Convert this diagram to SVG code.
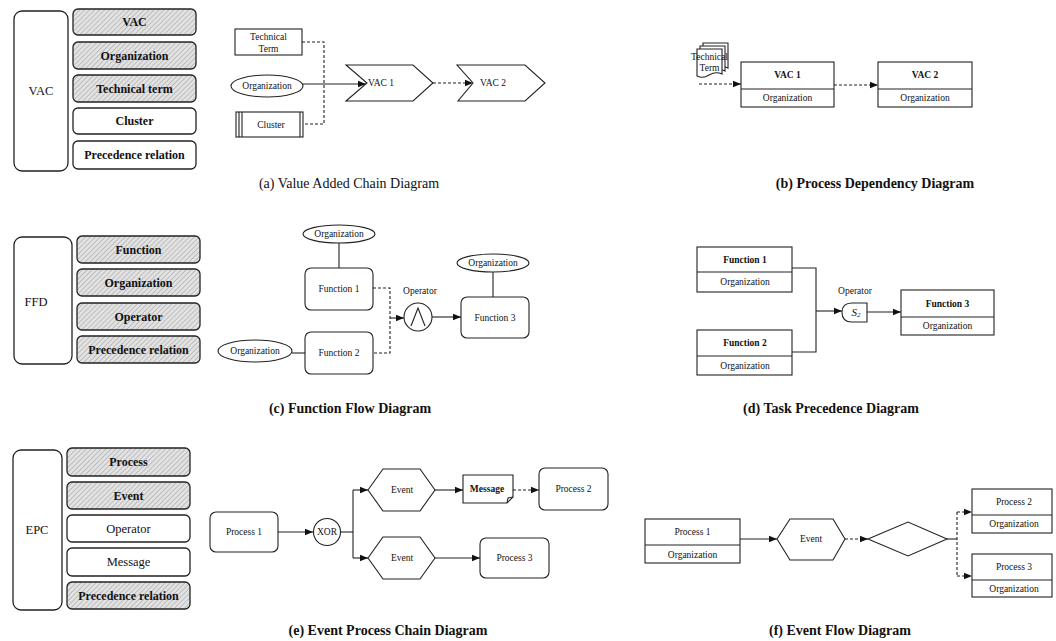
<svg xmlns="http://www.w3.org/2000/svg" width="1056" height="641" viewBox="0 0 1056 641">
<defs>
<pattern id="hatch" width="3.5" height="3.5" patternUnits="userSpaceOnUse" patternTransform="rotate(45)">
<rect width="3.5" height="3.5" fill="#e2e2e2"/>
<line x1="0" y1="0" x2="0" y2="3.5" stroke="#9a9a9a" stroke-width="1"/>
</pattern>
<marker id="ah" viewBox="0 0 10 10" refX="10" refY="5" markerWidth="8" markerHeight="8" markerUnits="userSpaceOnUse" orient="auto">
<path d="M0,1 L10,5 L0,9 z" fill="#111"/>
</marker>
<style>
.sh{fill:url(#hatch);stroke:#222;stroke-width:1.3}
.wb{fill:#fff;stroke:#222;stroke-width:1.3}
.nd{fill:#fff;stroke:#222;stroke-width:1.1}
.ln{fill:none;stroke:#222;stroke-width:1.1}
.dl{fill:none;stroke:#222;stroke-width:1.1;stroke-dasharray:3 2}
.ar{marker-end:url(#ah)}
text{font-family:"Liberation Serif","Times New Roman",serif;fill:#111;text-anchor:middle;dominant-baseline:central}
.lb{font-size:12px;font-weight:bold}
.big{font-size:12.5px}
.s{font-size:9.5px}
.sb{font-size:9.5px;font-weight:bold}
.cap{font-size:14px;font-weight:bold}
.capr{font-size:14px}
</style>
</defs>

<!-- (a) legend -->
<g id="a-legend">
<rect x="14" y="11" width="54" height="160" rx="8" class="wb"/>
<text x="41" y="91" class="big">VAC</text>
<rect x="73" y="9" width="123" height="26" rx="5" class="sh"/><text x="134.5" y="22" class="lb">VAC</text>
<rect x="73" y="42" width="123" height="27" rx="5" class="sh"/><text x="134.5" y="55.5" class="lb">Organization</text>
<rect x="73" y="75" width="123" height="27" rx="5" class="sh"/><text x="134.5" y="88.5" class="lb">Technical term</text>
<rect x="73" y="108" width="123" height="26" rx="5" class="wb"/><text x="134.5" y="121" class="lb">Cluster</text>
<rect x="73" y="141" width="123" height="28" rx="5" class="wb"/><text x="134.5" y="155" class="lb">Precedence relation</text>
</g>

<!-- connectors -->
<g id="connectors">
<path d="M302 42 H324 V124 H303" class="dl"/>
<path d="M303 84 H366" class="ln ar"/>
<path d="M433 83 H473" class="dl ar"/>
<path d="M699 84 H741" class="dl ar"/>
<path d="M834 85 H878" class="dl ar"/>
<path d="M339 243 V268" class="ln"/>
<path d="M292 353 H305" class="ln"/>
<path d="M373 288 H390 V353 H373" class="dl"/>
<path d="M390 318 H404" class="ln ar"/>
<path d="M432 317 H461" class="ln ar"/>
<path d="M493 272 V297" class="ln"/>
<path d="M792 268 H816 V352 H792" class="ln"/>
<path d="M816 311 H842" class="ln ar"/>
<path d="M867 312 H901" class="ln ar"/>
<path d="M278 532 H313" class="ln ar"/>
<path d="M340 532 H353" class="ln"/>
<path d="M353 490 V558" class="ln"/>
<path d="M353 490 H368" class="ln ar"/>
<path d="M353 558 H368" class="ln ar"/>
<path d="M435 490 H463" class="ln ar"/>
<path d="M513 490 H539" class="dl ar"/>
<path d="M435 558 H480" class="ln ar"/>
<path d="M740 539 H777" class="ln ar"/>
<path d="M845 539 H868" class="dl ar"/>
<path d="M947 539 H957" class="ln"/>
<path d="M957 512 V576" class="dl"/>
<path d="M957 512 H972" class="dl ar"/>
<path d="M957 576 H972" class="dl ar"/>
</g>

<!-- (a) diagram -->
<g id="a-techterm"><rect x="235" y="29" width="67" height="26" class="nd"/><text x="268.5" y="37" class="s">Technical</text><text x="268.5" y="49" class="s">Term</text></g>
<g id="a-org"><ellipse cx="267" cy="86" rx="36" ry="11" class="nd"/><text x="267" y="86" class="s">Organization</text></g>
<g id="a-cluster"><rect x="236" y="112" width="67" height="25" class="nd"/><path d="M239 112 V137 M242 112 V137 M300 112 V137" class="ln"/><text x="271" y="124.5" class="s">Cluster</text></g>
<g id="a-vac1"><polygon points="346,65 413,65 433,83 413,101 346,101 367,83" class="nd"/><text x="381" y="83" class="s">VAC 1</text></g>
<g id="a-vac2"><polygon points="457,65 525,65 545,83 525,101 458,101 473,83" class="nd"/><text x="493" y="83" class="s">VAC 2</text></g>
<text x="349" y="183" class="capr">(a) Value Added Chain Diagram</text>

<!-- (b) -->
<g id="b-techterm">
<path d="M703 43 H728 V68 Q722 65 715 69 Q709 73 703 70 Z" class="nd"/>
<path d="M700 46 H725 V71 Q719 68 712 72 Q706 76 700 73 Z" class="nd"/>
<path d="M697 49 H722 V74 Q716 71 709 75 Q703 79 697 76 Z" class="nd"/>
<text x="709.5" y="57" class="s">Technical</text><text x="709.5" y="68" class="s">Term</text>
</g>
<g id="b-vac1"><rect x="741" y="62" width="93" height="45" class="nd"/><path d="M741 89 H834" class="ln"/><text x="787.5" y="75" class="sb">VAC 1</text><text x="787.5" y="98" class="s">Organization</text></g>
<g id="b-vac2"><rect x="878" y="62" width="94" height="45" class="nd"/><path d="M878 89 H972" class="ln"/><text x="925" y="75" class="sb">VAC 2</text><text x="925" y="98" class="s">Organization</text></g>
<text x="875" y="183" class="cap">(b) Process Dependency Diagram</text>

<!-- (c) legend -->
<g id="c-legend">
<rect x="14" y="237" width="58" height="127" rx="8" class="wb"/>
<text x="36" y="302" class="big">FFD</text>
<rect x="77" y="236" width="123" height="27" rx="5" class="sh"/><text x="138.5" y="249.5" class="lb">Function</text>
<rect x="77" y="269" width="123" height="27" rx="5" class="sh"/><text x="138.5" y="282.5" class="lb">Organization</text>
<rect x="77" y="303" width="123" height="27" rx="5" class="sh"/><text x="138.5" y="316.5" class="lb">Operator</text>
<rect x="77" y="336" width="123" height="27" rx="5" class="sh"/><text x="138.5" y="349.5" class="lb">Precedence relation</text>
</g>
<g id="c-org1"><ellipse cx="339" cy="234" rx="36" ry="9" class="nd"/><text x="339" y="234" class="s">Organization</text></g>
<g id="c-f1"><rect x="305" y="268" width="68" height="42" rx="6" class="nd"/><text x="339" y="289" class="s">Function 1</text></g>
<g id="c-f2"><rect x="305" y="332" width="68" height="42" rx="6" class="nd"/><text x="339" y="353" class="s">Function 2</text></g>
<g id="c-org2"><ellipse cx="255" cy="351" rx="37" ry="11" class="nd"/><text x="255" y="351" class="s">Organization</text></g>
<g id="c-op"><circle cx="418" cy="317" r="14" class="nd"/><path d="M411 326 L418 308 L425 326" class="ln"/><text x="420" y="291" class="s">Operator</text></g>
<g id="c-f3"><rect x="461" y="297" width="68" height="41" rx="6" class="nd"/><text x="495" y="318" class="s">Function 3</text></g>
<g id="c-org3"><ellipse cx="493" cy="263" rx="36" ry="9" class="nd"/><text x="493" y="263" class="s">Organization</text></g>
<text x="350" y="408" class="cap">(c) Function Flow Diagram</text>

<!-- (d) -->
<g id="d-f1"><rect x="697" y="247" width="95" height="45" class="nd"/><path d="M697 272 H792" class="ln"/><text x="745" y="259.5" class="sb">Function 1</text><text x="745" y="282" class="s">Organization</text></g>
<g id="d-f2"><rect x="697" y="330" width="95" height="45" class="nd"/><path d="M697 356 H792" class="ln"/><text x="745" y="343" class="sb">Function 2</text><text x="745" y="366" class="s">Organization</text></g>
<g id="d-op"><path d="M867 303 H852 Q842 303 842 312.5 Q842 322 852 322 H867 Z" class="nd"/><text x="856" y="312" style="font-size:11px;font-style:italic">S<tspan style="font-size:7px" dy="3">2</tspan></text><text x="855" y="291" class="s">Operator</text></g>
<g id="d-f3"><rect x="901" y="290" width="93" height="45" class="nd"/><path d="M901 317 H994" class="ln"/><text x="947.5" y="303.5" class="sb">Function 3</text><text x="947.5" y="326" class="s">Organization</text></g>
<text x="831" y="408" class="cap">(d) Task Precedence Diagram</text>

<!-- (e) legend -->
<g id="e-legend">
<rect x="13" y="450" width="49" height="160" rx="8" class="wb"/>
<text x="37" y="530" class="big">EPC</text>
<rect x="67" y="448" width="123" height="28" rx="5" class="sh"/><text x="128.5" y="462" class="lb">Process</text>
<rect x="67" y="482" width="123" height="27" rx="5" class="sh"/><text x="128.5" y="495.5" class="lb">Event</text>
<rect x="67" y="515" width="123" height="27" rx="5" class="wb"/><text x="128.5" y="528.5" class="big">Operator</text>
<rect x="67" y="548" width="123" height="28" rx="5" class="wb"/><text x="128.5" y="562" class="big">Message</text>
<rect x="67" y="582" width="123" height="27" rx="5" class="sh"/><text x="128.5" y="595.5" class="lb">Precedence relation</text>
</g>
<g id="e-p1"><rect x="210" y="512" width="68" height="40" rx="6" class="nd"/><text x="244" y="532" class="s">Process 1</text></g>
<g id="e-xor"><circle cx="327" cy="532" r="13.5" class="nd"/><text x="327" y="532" class="s">XOR</text></g>
<g id="e-ev1"><polygon points="368,490 383,469 420,469 435,490 420,511 383,511" class="nd"/><text x="402" y="490" class="s">Event</text></g>
<g id="e-ev2"><polygon points="368,558 383,537 420,537 435,558 420,579 383,579" class="nd"/><text x="402" y="558" class="s">Event</text></g>
<g id="e-msg"><path d="M463 475 H513 V497 L507 503 H463 Z" class="nd"/><path d="M507 503 L508 498 L513 497" class="ln"/><text x="487" y="489" class="sb">Message</text></g>
<g id="e-p2"><rect x="539" y="468" width="69" height="42" rx="6" class="nd"/><text x="573.5" y="489" class="s">Process 2</text></g>
<g id="e-p3"><rect x="480" y="538" width="69" height="40" rx="6" class="nd"/><text x="514.5" y="558" class="s">Process 3</text></g>
<text x="388" y="630" class="cap">(e) Event Process Chain Diagram</text>

<!-- (f) -->
<g id="f-p1"><rect x="645" y="519" width="95" height="44" class="nd"/><path d="M645 545 H740" class="ln"/><text x="692.5" y="532" class="s">Process 1</text><text x="692.5" y="554.5" class="s">Organization</text></g>
<g id="f-ev"><polygon points="777,539 790,519 833,519 845,539 833,560 790,560" class="nd"/><text x="811" y="539" class="s">Event</text></g>
<g id="f-dia"><polygon points="868,539 908,522 947,539 908,556" class="nd"/></g>
<g id="f-p2"><rect x="972" y="489" width="80" height="44" class="nd"/><path d="M972 515 H1052" class="ln"/><text x="1014" y="502" class="s">Process 2</text><text x="1014" y="524" class="s">Organization</text></g>
<g id="f-p3"><rect x="972" y="554" width="80" height="43" class="nd"/><path d="M972 580 H1052" class="ln"/><text x="1014" y="567" class="s">Process 3</text><text x="1014" y="589" class="s">Organization</text></g>
<text x="840" y="630" class="cap">(f) Event Flow Diagram</text>
</svg>
